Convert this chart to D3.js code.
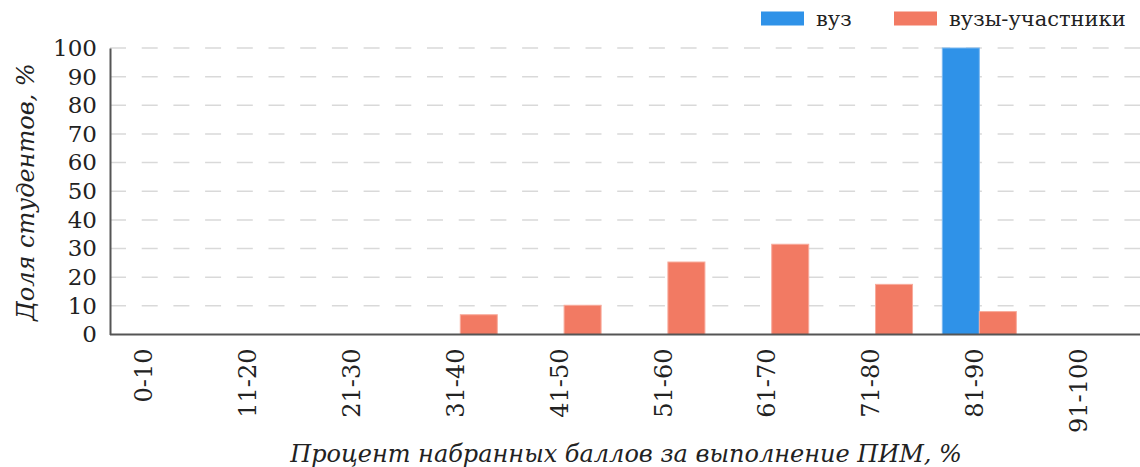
<!DOCTYPE html>
<html>
<head>
<meta charset="utf-8">
<script src="https://cdn.jsdelivr.net/npm/d3@7"></script>
<style>
  html, body { margin: 0; padding: 0; background: #fff; }
  svg { display: block; font-family: "DejaVu Serif", serif; }
</style>
</head>
<body>
<svg id="chart" width="1140" height="467"></svg>
<script>
// Score bands and share of students per band
const categories = ["0-10", "11-20", "21-30", "31-40", "41-50", "51-60", "61-70", "71-80", "81-90", "91-100"];
const seriesNames = ["вуз", "вузы-участники"];
const vuzValues = [0, 0, 0, 0, 0, 0, 0, 0, 100, 0];
const participantsValues = [0, 0, 0, 6.9, 10.2, 25.3, 31.5, 17.5, 8.0, 0];
const seriesColors = ["#2f92e8", "#f27a63"];
const yTicks = [0, 10, 20, 30, 40, 50, 60, 70, 80, 90, 100];

const svg = d3.select("#chart");
const axisX = 110, plotRight = 1140;
const yTop = 48, yBottom = 334.5;

const x = d3.scaleBand().domain(categories).range([97, 1135]).paddingInner(0.287).paddingOuter(0.143);
const xs = d3.scaleBand().domain(seriesNames).range([0, x.bandwidth()]);
const y = d3.scaleLinear().domain([0, 100]).range([yBottom, yTop]);

// Dashed horizontal grid
svg.append("g").selectAll("line").data(yTicks.filter(d => d > 0)).join("line")
  .attr("x1", axisX).attr("x2", plotRight)
  .attr("y1", d => y(d)).attr("y2", d => y(d))
  .attr("stroke", "#d9d9d9").attr("stroke-width", 1.5)
  .attr("stroke-dasharray", "16,15.7");

// Bars
const rows = categories.map((c, i) => ({ c, vals: [vuzValues[i], participantsValues[i]] }));
const groups = svg.append("g").selectAll("g").data(rows).join("g")
  .attr("transform", d => `translate(${x(d.c)},0)`);
groups.selectAll("rect").data(d => d.vals.map((v, k) => ({ v, k })).filter(e => e.v > 0)).join("rect")
  .attr("x", e => xs(seriesNames[e.k]))
  .attr("width", xs.bandwidth())
  .attr("y", e => y(e.v))
  .attr("height", e => y(0) - y(e.v))
  .attr("fill", e => seriesColors[e.k])
  .attr("stroke", e => e.k === 0 ? "#7ab8f0" : "#f8ab9c")
  .attr("stroke-width", 1);

// Y axis
const yAxis = svg.append("g").attr("transform", `translate(${axisX},0)`)
  .call(d3.axisLeft(y).tickValues(yTicks).tickSize(0).tickPadding(13));
yAxis.select(".domain").attr("stroke", "#555").attr("stroke-width", 2);
yAxis.selectAll("text").attr("font-size", 23).attr("fill", "#222").attr("font-family", "DejaVu Serif");

// X axis
const xAxis = svg.append("g").attr("transform", `translate(0,${yBottom})`)
  .call(d3.axisBottom(x).tickSize(0));
xAxis.select(".domain").attr("d", `M${axisX},0H${plotRight}`).attr("stroke", "#555").attr("stroke-width", 2);
xAxis.selectAll("text")
  .attr("font-size", 24).attr("fill", "#222").attr("font-family", "DejaVu Serif")
  .attr("text-anchor", "end")
  .attr("dy", "0.15em")
  .attr("transform", "translate(0,14) rotate(-90)")
  .attr("x", 0).attr("y", 0);

// Axis titles
svg.append("text")
  .attr("transform", "translate(34,192) rotate(-90)")
  .attr("text-anchor", "middle")
  .attr("font-size", 24).attr("font-style", "italic").attr("fill", "#222")
  .text("Доля студентов, %");
svg.append("text")
  .attr("x", 626).attr("y", 462)
  .attr("text-anchor", "middle")
  .attr("font-size", 24).attr("font-style", "italic").attr("fill", "#222")
  .text("Процент набранных баллов за выполнение ПИМ, %");

// Legend
const legend = svg.append("g");
const legendItems = [{ name: seriesNames[0], x: 761 }, { name: seriesNames[1], x: 894 }];
legendItems.forEach((d, i) => {
  legend.append("rect").attr("x", d.x).attr("y", 11.5).attr("width", 43).attr("height", 14)
    .attr("fill", seriesColors[i]);
  legend.append("text").attr("x", d.x + 55).attr("y", 25.5)
    .attr("font-size", 21).attr("fill", "#222").text(d.name);
});
</script>
</body>
</html>
